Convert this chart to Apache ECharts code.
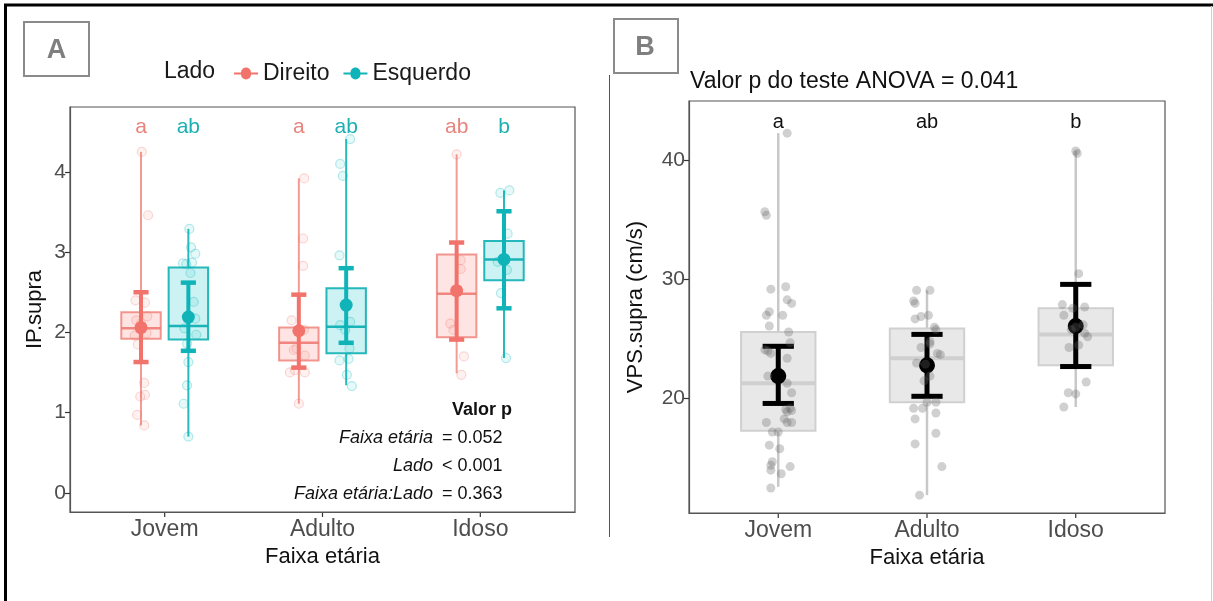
<!DOCTYPE html>
<html>
<head>
<meta charset="utf-8">
<script src="https://cdn.jsdelivr.net/npm/echarts@6/dist/echarts.min.js"></script>
<style>
html, body { margin: 0; padding: 0; background: #fff; }
#main { width: 1213px; height: 601px; }
</style>
</head>
<body>
<div id="main"></div>
<script>
(function () {

	var FONT = '"Liberation Sans", Arial, sans-serif';

	var categories = ['Jovem', 'Adulto', 'Idoso'];
	var categoryTicks = [1, 2, 3];

	// Painel A - IP.supra, [min, q1, mediana, q3, max] por faixa etaria
	var ipDireitoBox  = [[0.84, 1.92, 2.05, 2.25, 4.25], [1.11, 1.65, 1.87, 2.06, 3.92], [1.49, 1.94, 2.48, 2.97, 4.22]];
	var ipEsquerdoBox = [[0.70, 1.91, 2.08, 2.81, 3.29], [1.34, 1.74, 2.07, 2.55, 4.41], [1.68, 2.65, 2.91, 3.14, 3.77]];
	// [media, limite inferior, limite superior]
	var ipDireitoMean  = [[2.06, 1.63, 2.50], [2.02, 1.56, 2.47], [2.52, 1.91, 3.12]];
	var ipEsquerdoMean = [[2.19, 1.77, 2.62], [2.34, 1.87, 2.80], [2.91, 2.30, 3.51]];
	var ipDireitoLetters  = ['a', 'a', 'ab'];
	var ipEsquerdoLetters = ['ab', 'ab', 'b'];
	// pontos [deslocamento do jitter, valor]
	var ipDireitoPoints = [
		[[0.005, 4.25], [0.045, 3.46], [-0.035, 2.40], [0.025, 2.37], [0.04, 2.20], [-0.03, 2.15], [0.0, 2.11], [0.035, 1.99], [-0.04, 1.96], [-0.02, 1.85], [0.02, 1.37], [-0.005, 1.20], [0.025, 1.22], [-0.025, 0.97], [0.02, 0.84]],
		[[0.034, 3.92], [0.027, 3.17], [0.027, 2.83], [-0.046, 2.15], [0.032, 2.03], [-0.015, 1.80], [-0.032, 1.78], [0.038, 1.71], [-0.057, 1.50], [-0.025, 1.53], [0.038, 1.50], [0.0, 1.11]],
		[[0.0, 4.22], [0.025, 2.90], [0.026, 2.79], [-0.04, 2.11], [-0.02, 2.03], [0.046, 1.70], [0.03, 1.47]]
	];
	var ipEsquerdoPoints = [
		[[0.006, 3.29], [0.017, 3.06], [0.044, 2.98], [-0.034, 2.86], [0.023, 2.87], [-0.013, 2.85], [0.013, 2.74], [0.034, 2.38], [0.044, 2.17], [-0.025, 2.05], [0.05, 1.97], [-0.008, 1.86], [0.0, 1.63], [-0.008, 1.34], [-0.03, 1.11], [0.0, 0.70]],
		[[0.025, 4.41], [-0.038, 4.10], [-0.021, 3.95], [-0.042, 2.96], [0.025, 2.13], [-0.038, 2.09], [-0.006, 2.03], [0.021, 1.80], [-0.042, 1.65], [0.015, 1.67], [0.004, 1.47], [0.036, 1.33]],
		[[0.034, 3.77], [-0.023, 3.74], [0.023, 3.23], [-0.04, 2.88], [0.019, 2.78], [-0.019, 2.49], [0.013, 1.68]]
	];
	var pLabels = ['Faixa etária', 'Lado', 'Faixa etária:Lado'];
	var pValues = ['= 0.052', '< 0.001', '= 0.363'];

	// Painel B - VPS.supra
	var vpsBox  = [[12.6, 17.3, 21.3, 25.6, 42.3], [11.9, 19.7, 23.4, 25.9, 29.1], [19.3, 22.8, 25.4, 27.6, 40.8]];
	var vpsMean = [[21.9, 19.6, 24.4], [22.8, 20.2, 25.4], [26.1, 22.7, 29.6]];
	var vpsLetters = ['a', 'ab', 'b'];
	var vpsPoints = [
		[[0.06, 42.3], [-0.09, 35.7], [-0.08, 35.4], [-0.05, 29.2], [0.05, 29.4], [0.06, 28.3], [0.09, 28.0], [-0.06, 27.3], [-0.08, 27.0], [0.03, 27.0], [-0.06, 26.1], [0.07, 25.6], [0.08, 24.7], [-0.09, 24.1], [-0.07, 24.0], [-0.05, 23.8], [0.06, 23.4], [-0.07, 21.9], [0.06, 21.3], [0.09, 20.5], [0.08, 19.2], [0.05, 19.1], [-0.08, 18.0], [0.09, 19.0], [0.06, 18.9], [0.04, 18.3], [0.06, 18.0], [0.09, 18.0], [-0.04, 17.2], [0.0, 17.2], [-0.06, 16.1], [0.01, 15.8], [-0.04, 14.7], [-0.05, 14.4], [-0.05, 14.0], [0.02, 13.7], [0.08, 14.3], [-0.05, 12.5]],
		[[-0.07, 29.1], [0.02, 29.1], [-0.09, 28.2], [-0.08, 28.0], [-0.08, 26.7], [0.01, 27.0], [-0.04, 26.9], [0.05, 26.0], [0.06, 25.8], [0.02, 24.8], [0.02, 24.6], [-0.04, 24.3], [0.07, 23.8], [0.09, 23.7], [-0.07, 23.0], [-0.01, 22.9], [0.02, 21.9], [-0.02, 21.5], [0.06, 19.7], [0.0, 19.7], [-0.09, 19.2], [-0.03, 19.2], [0.06, 18.8], [-0.08, 18.3], [0.06, 17.1], [-0.08, 16.2], [0.10, 14.3], [-0.05, 11.9]],
		[[0.0, 40.8], [0.01, 40.6], [0.02, 30.5], [-0.09, 27.9], [0.06, 27.7], [-0.02, 27.6], [-0.08, 27.0], [0.0, 26.0], [0.05, 26.2], [-0.03, 25.8], [0.06, 25.5], [0.08, 25.2], [0.02, 24.5], [-0.045, 24.3], [0.07, 21.4], [-0.05, 20.5], [0.0, 20.4], [-0.08, 19.3]]
	];

	var DODGE = 0.15;
	var RED  = '#F2736B';
	var TEAL = '#10B4B8';
	var LEGEND_ICON = 'path://M0,5L7,5A5,5,0,0,1,17,5L24,5L24,7L17,7A5,5,0,0,1,7,7L0,7Z';

	var IP_MIN = -0.24, IP_MAX = 4.81;
	var VPS_MIN = 10.4, VPS_MAX = 45;

	function boxData(stats, dodge) {
		return stats.map(function (s, i) { return [i + 1 + dodge].concat(s); });
	}
	function meanData(stats, dodge) {
		return stats.map(function (s, i) { return [i + 1 + dodge].concat(s); });
	}
	function pointData(groups, dodge) {
		var out = [];
		groups.forEach(function (g, i) {
			g.forEach(function (p) { out.push([i + 1 + dodge + p[0], p[1]]); });
		});
		return out;
	}
	function letterData(letters, dodge, y) {
		return letters.map(function (l, i) { return [i + 1 + dodge, y]; });
	}

	function boxRenderer(hw, st) {
		return function (params, api) {
			var x = api.value(0);
			var pMin = api.coord([x, api.value(1)]);
			var pQ1  = api.coord([x, api.value(2)]);
			var pMed = api.coord([x, api.value(3)]);
			var pQ3  = api.coord([x, api.value(4)]);
			var pMax = api.coord([x, api.value(5)]);
			var l = api.coord([x - hw, 0])[0];
			var r = api.coord([x + hw, 0])[0];
			return {
				type: 'group',
				children: [
					{ type: 'line', shape: { x1: pMin[0], y1: pMin[1], x2: pQ1[0], y2: pQ1[1] }, style: { stroke: st.whisker, lineWidth: st.whiskerWidth } },
					{ type: 'line', shape: { x1: pQ3[0], y1: pQ3[1], x2: pMax[0], y2: pMax[1] }, style: { stroke: st.whisker, lineWidth: st.whiskerWidth } },
					{ type: 'rect', shape: { x: l, y: pQ3[1], width: r - l, height: pQ1[1] - pQ3[1] }, style: { fill: st.fill, stroke: st.stroke, lineWidth: st.strokeWidth } },
					{ type: 'line', shape: { x1: l, y1: pMed[1], x2: r, y2: pMed[1] }, style: { stroke: st.median, lineWidth: st.medianWidth } }
				]
			};
		};
	}

	function meanRenderer(capHw, color, lw, capLw, radius) {
		return function (params, api) {
			var x = api.value(0);
			var m  = api.coord([x, api.value(1)]);
			var lo = api.coord([x, api.value(2)]);
			var hi = api.coord([x, api.value(3)]);
			var l = api.coord([x - capHw, 0])[0];
			var r = api.coord([x + capHw, 0])[0];
			return {
				type: 'group',
				children: [
					{ type: 'line', shape: { x1: m[0], y1: lo[1], x2: m[0], y2: hi[1] }, style: { stroke: color, lineWidth: lw } },
					{ type: 'line', shape: { x1: l, y1: lo[1], x2: r, y2: lo[1] }, style: { stroke: color, lineWidth: capLw } },
					{ type: 'line', shape: { x1: l, y1: hi[1], x2: r, y2: hi[1] }, style: { stroke: color, lineWidth: capLw } },
					{ type: 'circle', shape: { cx: m[0], cy: m[1], r: radius }, style: { fill: color } }
				]
			};
		};
	}

	function letterRenderer(letters, color, size) {
		return function (params, api) {
			var p = api.coord([api.value(0), api.value(1)]);
			return {
				type: 'text', x: p[0], y: p[1],
				style: { text: letters[params.dataIndex], fill: color, font: size + 'px ' + FONT, align: 'center', verticalAlign: 'middle' }
			};
		};
	}

	function makeXAxis(gridIndex, nameGap) {
		return {
			gridIndex: gridIndex, type: 'value', min: 0.4, max: 3.6, position: 'bottom',
			axisLine: { show: true, onZero: false, lineStyle: { color: '#555', width: 1.2 } },
			splitLine: { show: false },
			axisTick: { show: false },
			axisLabel: {
				customValues: categoryTicks, margin: 6, fontSize: 23, color: '#4d4d4d', fontFamily: FONT,
				formatter: function (v) { return categories[Math.round(v) - 1]; }
			},
			name: 'Faixa etária', nameLocation: 'middle', nameGap: nameGap,
			nameTextStyle: { fontSize: 22, color: '#111', fontFamily: FONT }
		};
	}

	function makeYAxis(gridIndex, min, max, ticks, name, nameGap) {
		return {
			gridIndex: gridIndex, type: 'value', min: min, max: max, position: 'left',
			axisLine: { show: true, onZero: false, lineStyle: { color: '#555', width: 1.2 } },
			splitLine: { show: false },
			axisTick: { show: true, customValues: ticks, length: 5, lineStyle: { color: '#333', width: 1.2 } },
			axisLabel: { customValues: ticks, margin: 4, fontSize: 21, color: '#4d4d4d', fontFamily: FONT },
			name: name, nameLocation: 'middle', nameGap: nameGap, nameRotate: 90,
			nameTextStyle: { fontSize: 22, color: '#111', fontFamily: FONT }
		};
	}

	var redBox  = { whisker: 'rgba(238,120,112,0.75)', whiskerWidth: 2, fill: 'rgba(248,118,109,0.2)', stroke: 'rgba(238,118,110,0.75)', strokeWidth: 2, median: 'rgba(238,118,110,0.85)', medianWidth: 2.5 };
	var tealBox = { whisker: 'rgba(16,178,182,0.9)', whiskerWidth: 2, fill: 'rgba(0,191,196,0.2)', stroke: 'rgba(16,176,180,0.9)', strokeWidth: 2, median: 'rgba(16,176,180,0.95)', medianWidth: 2.5 };
	var grayBox = { whisker: '#c8c8c8', whiskerWidth: 2.5, fill: '#e8e8e8', stroke: '#d0d0d0', strokeWidth: 2, median: '#cfcfcf', medianWidth: 4 };

	var graphics = [
		{ type: 'line', shape: { x1: 4, y1: 5, x2: 1213, y2: 5 }, style: { stroke: '#000', lineWidth: 3 } },
		{ type: 'line', shape: { x1: 5.5, y1: 4, x2: 5.5, y2: 601 }, style: { stroke: '#000', lineWidth: 3 } },
		{ type: 'line', shape: { x1: 1211.5, y1: 6, x2: 1211.5, y2: 601 }, style: { stroke: '#d0d0d0', lineWidth: 1 } },
		{ type: 'line', shape: { x1: 609.5, y1: 75, x2: 609.5, y2: 537 }, style: { stroke: '#555', lineWidth: 1 } },
		{ type: 'rect', shape: { x: 24, y: 22, width: 65, height: 54 }, style: { fill: '#fff', stroke: '#8a8a8a', lineWidth: 2 } },
		{ type: 'text', x: 56.5, y: 51, style: { text: 'A', font: 'bold 27px ' + FONT, fill: '#7f7f7f', align: 'center', verticalAlign: 'middle' } },
		{ type: 'rect', shape: { x: 614, y: 19, width: 64, height: 54 }, style: { fill: '#fff', stroke: '#8a8a8a', lineWidth: 2 } },
		{ type: 'text', x: 645, y: 48, style: { text: 'B', font: 'bold 27px ' + FONT, fill: '#7f7f7f', align: 'center', verticalAlign: 'middle' } },
		{ type: 'text', x: 164, y: 72, style: { text: 'Lado', font: '23px ' + FONT, fill: '#1a1a1a', align: 'left', verticalAlign: 'middle' } },
		{ type: 'text', x: 690, y: 82, style: { text: 'Valor p do teste ANOVA = 0.041', font: '23px ' + FONT, fill: '#111', align: 'left', verticalAlign: 'middle' } },
		{ type: 'text', x: 512, y: 410, style: { text: 'Valor p', font: 'bold 18px ' + FONT, fill: '#111', align: 'right', verticalAlign: 'middle' } }
	];
	pLabels.forEach(function (lbl, i) {
		graphics.push({ type: 'text', x: 433, y: 438 + i * 28, style: { text: lbl, font: 'italic 18px ' + FONT, fill: '#111', align: 'right', verticalAlign: 'middle' } });
		graphics.push({ type: 'text', x: 442, y: 438 + i * 28, style: { text: pValues[i], font: '18px ' + FONT, fill: '#111', align: 'left', verticalAlign: 'middle' } });
	});

	var chart = echarts.init(document.getElementById('main'));

	chart.setOption({
		animation: false,
		backgroundColor: '#fff',
		textStyle: { fontFamily: FONT },
		legend: {
			left: 229, top: 57, itemWidth: 24, itemHeight: 12, itemGap: 14,
			textStyle: { fontSize: 23, color: '#1a1a1a', fontFamily: FONT },
			data: [
				{ name: 'Direito', icon: LEGEND_ICON, itemStyle: { color: RED } },
				{ name: 'Esquerdo', icon: LEGEND_ICON, itemStyle: { color: TEAL } }
			]
		},
		grid: [
			{ left: 70, top: 107, width: 505, height: 405, show: true, borderColor: '#555', borderWidth: 1.2 },
			{ left: 689, top: 101, width: 476, height: 412, show: true, borderColor: '#555', borderWidth: 1.2 }
		],
		xAxis: [makeXAxis(0, 28), makeXAxis(1, 28)],
		yAxis: [
			makeYAxis(0, IP_MIN, IP_MAX, [0, 1, 2, 3, 4], 'IP.supra', 24),
			makeYAxis(1, VPS_MIN, VPS_MAX, [20, 30, 40], 'VPS.supra (cm/s)', 42)
		],
		graphic: graphics,
		series: [
			// painel A
			{ type: 'custom', name: 'boxD', xAxisIndex: 0, yAxisIndex: 0, renderItem: boxRenderer(0.125, redBox), data: boxData(ipDireitoBox, -DODGE), silent: true },
			{ type: 'custom', name: 'boxE', xAxisIndex: 0, yAxisIndex: 0, renderItem: boxRenderer(0.125, tealBox), data: boxData(ipEsquerdoBox, DODGE), silent: true },
			{
				type: 'scatter', name: 'ptsD', xAxisIndex: 0, yAxisIndex: 0, symbolSize: 9, silent: true,
				itemStyle: { color: 'rgba(248,118,109,0.12)', borderColor: 'rgba(240,118,110,0.35)', borderWidth: 1.2 },
				data: pointData(ipDireitoPoints, -DODGE)
			},
			{
				type: 'scatter', name: 'ptsE', xAxisIndex: 0, yAxisIndex: 0, symbolSize: 9, silent: true,
				itemStyle: { color: 'rgba(0,191,196,0.12)', borderColor: 'rgba(0,180,186,0.35)', borderWidth: 1.2 },
				data: pointData(ipEsquerdoPoints, DODGE)
			},
			{ type: 'custom', name: 'Direito', xAxisIndex: 0, yAxisIndex: 0, itemStyle: { color: RED }, renderItem: meanRenderer(0.048, RED, 4, 4.5, 6.5), data: meanData(ipDireitoMean, -DODGE) },
			{ type: 'custom', name: 'Esquerdo', xAxisIndex: 0, yAxisIndex: 0, itemStyle: { color: TEAL }, renderItem: meanRenderer(0.048, TEAL, 4, 4.5, 6.5), data: meanData(ipEsquerdoMean, DODGE) },
			{ type: 'custom', name: 'letD', xAxisIndex: 0, yAxisIndex: 0, renderItem: letterRenderer(ipDireitoLetters, '#E8847C', 21), data: letterData(ipDireitoLetters, -DODGE, 4.56), silent: true },
			{ type: 'custom', name: 'letE', xAxisIndex: 0, yAxisIndex: 0, renderItem: letterRenderer(ipEsquerdoLetters, '#1DB0B3', 21), data: letterData(ipEsquerdoLetters, DODGE, 4.56), silent: true },

			// painel B
			{ type: 'custom', name: 'boxB', xAxisIndex: 1, yAxisIndex: 1, renderItem: boxRenderer(0.25, grayBox), data: boxData(vpsBox, 0), silent: true },
			{
				type: 'scatter', name: 'ptsB', xAxisIndex: 1, yAxisIndex: 1, symbolSize: 9, silent: true,
				itemStyle: { color: 'rgba(100,100,100,0.38)' },
				data: pointData(vpsPoints, 0)
			},
			{ type: 'custom', name: 'meanB', xAxisIndex: 1, yAxisIndex: 1, renderItem: meanRenderer(0.105, '#000', 5, 5, 8), data: meanData(vpsMean, 0) },
			{ type: 'custom', name: 'letB', xAxisIndex: 1, yAxisIndex: 1, renderItem: letterRenderer(vpsLetters, '#111', 20), data: letterData(vpsLetters, 0, 43.2), silent: true }
		]
	});

	// marcas do eixo x, posicionadas pelas escalas de cada painel
	var ticks = [];
	[[0, IP_MIN], [1, VPS_MIN]].forEach(function (g) {
		categoryTicks.forEach(function (t) {
			var p = chart.convertToPixel({ gridIndex: g[0] }, [t, g[1]]);
			ticks.push({ type: 'line', shape: { x1: p[0], y1: p[1], x2: p[0], y2: p[1] + 5 }, style: { stroke: '#333', lineWidth: 1.2 } });
		});
	});
	chart.setOption({ graphic: graphics.concat(ticks) });

})();
</script>
</body>
</html>
